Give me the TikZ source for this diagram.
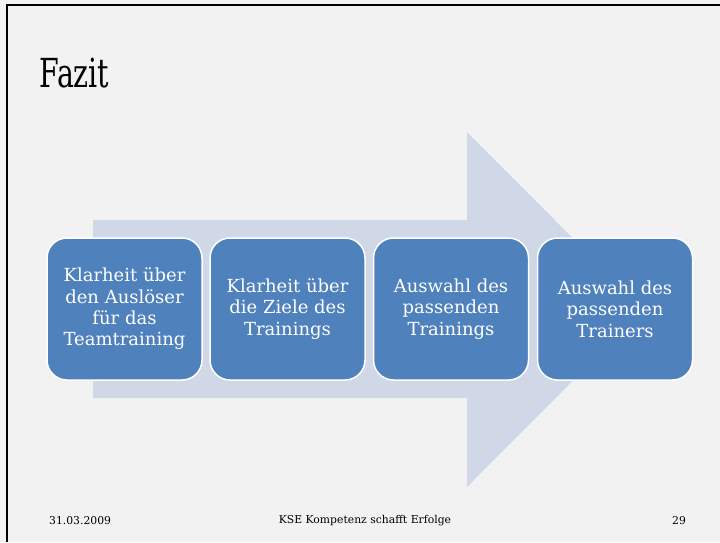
\documentclass[tikz,border=0pt]{standalone}
\usepackage{fontspec}
\usepackage{graphicx}
\setmainfont{DejaVu Serif}
\definecolor{bg}{HTML}{F2F2F2}
\definecolor{arrowc}{HTML}{D0D8E8}
\definecolor{boxc}{HTML}{4F81BD}
\tikzset{
  stepbox/.style={draw=white, line width=1.5pt, fill=boxc, rounded corners=20pt,
    minimum width=155pt, minimum height=142pt, text=white, align=center,
    font=\fontsize{18}{21.3}\selectfont, inner sep=0pt},
  foot/.style={font=\fontsize{10.8}{12}\selectfont, text=black, inner sep=0pt}
}
\begin{document}
\begin{tikzpicture}[x=1pt,y=-1pt]
\fill[bg] (0,0) rectangle (720,542);
\useasboundingbox (0,0) rectangle (720,542);
\draw[line width=2.5pt] (7,542) -- (7,5) -- (720,5);
\node[anchor=base west, inner sep=0pt, font=\fontsize{40}{44}\selectfont] (title) at (39,87) {\scalebox{0.71}[1]{Fazit}};
\fill[arrowc] (93,220) -- (467,220) -- (467,132) -- (644,309.5) -- (467,487) -- (467,398) -- (93,398) -- cycle;
\node[stepbox] (b1) at (124.5,309) {Klarheit über\\den Auslöser\\für das\\Teamtraining};
\node[stepbox] (b2) at (287.5,309) {Klarheit über\\die Ziele des\\Trainings};
\node[stepbox] (b3) at (451,309) {Auswahl des\\passenden\\Trainings};
\node[stepbox] (b4) at (615,309) {Auswahl des\\passenden\\Trainers};
\node[foot, anchor=west] (date) at (49,521) {31.03.2009};
\node[foot] (mid) at (365,521) {KSE Kompetenz schafft Erfolge};
\node[foot] (num) at (679,521) {29};
\end{tikzpicture}
\end{document}
